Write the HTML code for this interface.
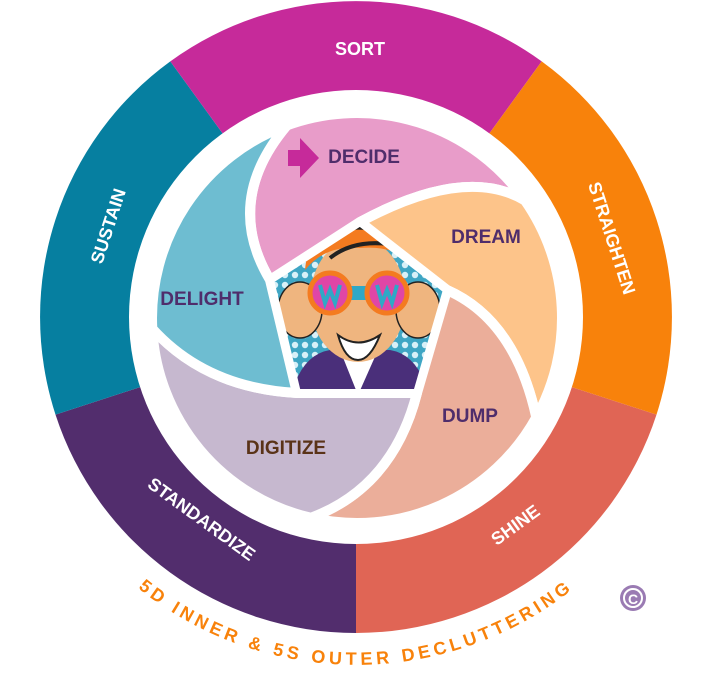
<!DOCTYPE html>
<html><head><meta charset="utf-8"><style>
html,body{margin:0;padding:0;background:#fff;}
svg{display:block;}
.o{font-family:"Liberation Sans",sans-serif;font-weight:bold;font-size:18px;fill:#fff;text-anchor:middle;}
.i{font-family:"Liberation Sans",sans-serif;font-weight:bold;font-size:19px;fill:#4f2d6b;text-anchor:middle;}
</style></head><body>
<svg width="716" height="676" viewBox="0 0 716 676" xmlns="http://www.w3.org/2000/svg">
<defs>
<clipPath id="pc"><path d="M360,222 L447,290 L417,393 L297,393 L270,280 Z"/></clipPath>
<pattern id="dots" width="10" height="10" patternUnits="userSpaceOnUse"><rect width="10" height="10" fill="#3fa6c4"/><circle cx="5" cy="5" r="3.2" fill="#d8f0f8"/></pattern>
</defs>
<path d="M356,317 L656.5,414.6 A316 316 0 0 1 356,633 Z" fill="#e06555"/>
<path d="M356,317 L356,633 A316 316 0 0 1 55.5,414.6 Z" fill="#522d6d"/>
<path d="M356,317 L55.5,414.6 A316 316 0 0 1 170.3,61.4 Z" fill="#067fa0"/>
<path d="M356,317 L170.3,61.4 A316 316 0 0 1 541.7,61.4 Z" fill="#c62a9a"/>
<path d="M356,317 L541.7,61.4 A316 316 0 0 1 656.5,414.6 Z" fill="#f8820b"/>
<circle cx="356" cy="317" r="227" fill="#fff"/>
<g stroke="#fff" stroke-width="10" stroke-linejoin="round">
<path d="M270,280 Q223,201 286.9,125.4 A205 205 0 0 1 524.9,200.4 Q465,165 360,222 Z" fill="#e89cc9"/>
<path d="M360,222 Q465,165 524.9,200.4 A205 205 0 0 1 536.3,417.4 Q515,320 447,290 Z" fill="#fdc48a"/>
<path d="M447,290 Q515,320 536.3,417.4 A205 205 0 0 1 310.9,517.8 Q393,487 417,393 Z" fill="#ebae9a"/>
<path d="M417,393 Q393,487 310.9,517.8 A205 205 0 0 1 152.3,328.7 Q206,388 297,393 Z" fill="#c6b8cf"/>
<path d="M297,393 Q206,388 152.3,328.7 A205 205 0 0 1 286.9,125.4 Q223,201 270,280 Z" fill="#6ebdd1"/>
</g>
<g clip-path="url(#pc)">
<rect x="260" y="210" width="200" height="190" fill="url(#dots)"/>
<path d="M290,400 Q300,355 330,350 L390,350 Q420,355 430,400 Z" fill="#4a2f7a"/>
<path d="M340,350 L358,395 L378,350 Z" fill="#fff"/>
<ellipse cx="358" cy="300" rx="48" ry="62" fill="#efb57f"/>
<path d="M305,270 Q310,215 360,215 Q410,215 412,265 Q395,245 360,248 Q325,245 305,270 Z" fill="#f47b20"/>
<path d="M318,245 Q340,225 365,228 M330,258 Q355,238 395,245 M370,225 Q395,230 405,250" stroke="#222" stroke-width="4" fill="none"/>
<ellipse cx="300" cy="310" rx="22" ry="28" fill="#efb57f" stroke="#222" stroke-width="1.5"/>
<ellipse cx="418" cy="310" rx="22" ry="28" fill="#efb57f" stroke="#222" stroke-width="1.5"/>
<rect x="338" y="286" width="42" height="14" fill="#2fa8c6"/>
<circle cx="330" cy="293" r="20" fill="#e046a6" stroke="#f47b20" stroke-width="5"/>
<circle cx="387" cy="293" r="20" fill="#e046a6" stroke="#f47b20" stroke-width="5"/>
<path d="M320,285 L325,303 L330,290 L335,303 L340,285" stroke="#2fa8c6" stroke-width="4" fill="none"/>
<path d="M377,285 L382,303 L387,290 L392,303 L397,285" stroke="#2fa8c6" stroke-width="4" fill="none"/>
<path d="M338,335 Q358,350 380,335 Q370,360 358,360 Q345,360 338,335 Z" fill="#fff" stroke="#222" stroke-width="2"/>
</g>
<path d="M360,222 L447,290 L417,393 L297,393 L270,280 Z" fill="none" stroke="#fff" stroke-width="8" stroke-linejoin="round"/>
<text class="o" x="360" y="55">SORT</text>
<text class="o" transform="translate(606,240) rotate(72)">STRAIGHTEN</text>
<text class="o" transform="translate(519,530) rotate(-36)">SHINE</text>
<text class="o" transform="translate(198,524) rotate(36)">STANDARDIZE</text>
<text class="o" transform="translate(114,228) rotate(-72)">SUSTAIN</text>
<path d="M288,150 L300,150 L300,138 L319,158 L300,178 L300,166 L288,166 Z" fill="#c62a9a"/>
<text class="i" x="364" y="163">DECIDE</text>
<text class="i" x="486" y="243">DREAM</text>
<text class="i" x="202" y="305">DELIGHT</text>
<text class="i" x="470" y="422">DUMP</text>
<text class="i" x="286" y="454" style="fill:#5a3318">DIGITIZE</text>
<path id="arc" d="M110.1,563 A348 348 0 0 0 602.1,563" fill="none"/>
<text font-family="Liberation Sans,sans-serif" font-weight="bold" font-size="18" fill="#f8820b" letter-spacing="4" text-anchor="middle"><textPath href="#arc" startOffset="50%">5D INNER &amp; 5S OUTER DECLUTTERING</textPath></text>
<circle cx="633" cy="598" r="13" fill="#9a7bb3"/>
<circle cx="633" cy="598" r="9" fill="none" stroke="#fff" stroke-width="2"/>
<text x="633" y="604" font-family="Liberation Sans,sans-serif" font-weight="bold" font-size="14" fill="#fff" text-anchor="middle">C</text>
</svg>
</body></html>
